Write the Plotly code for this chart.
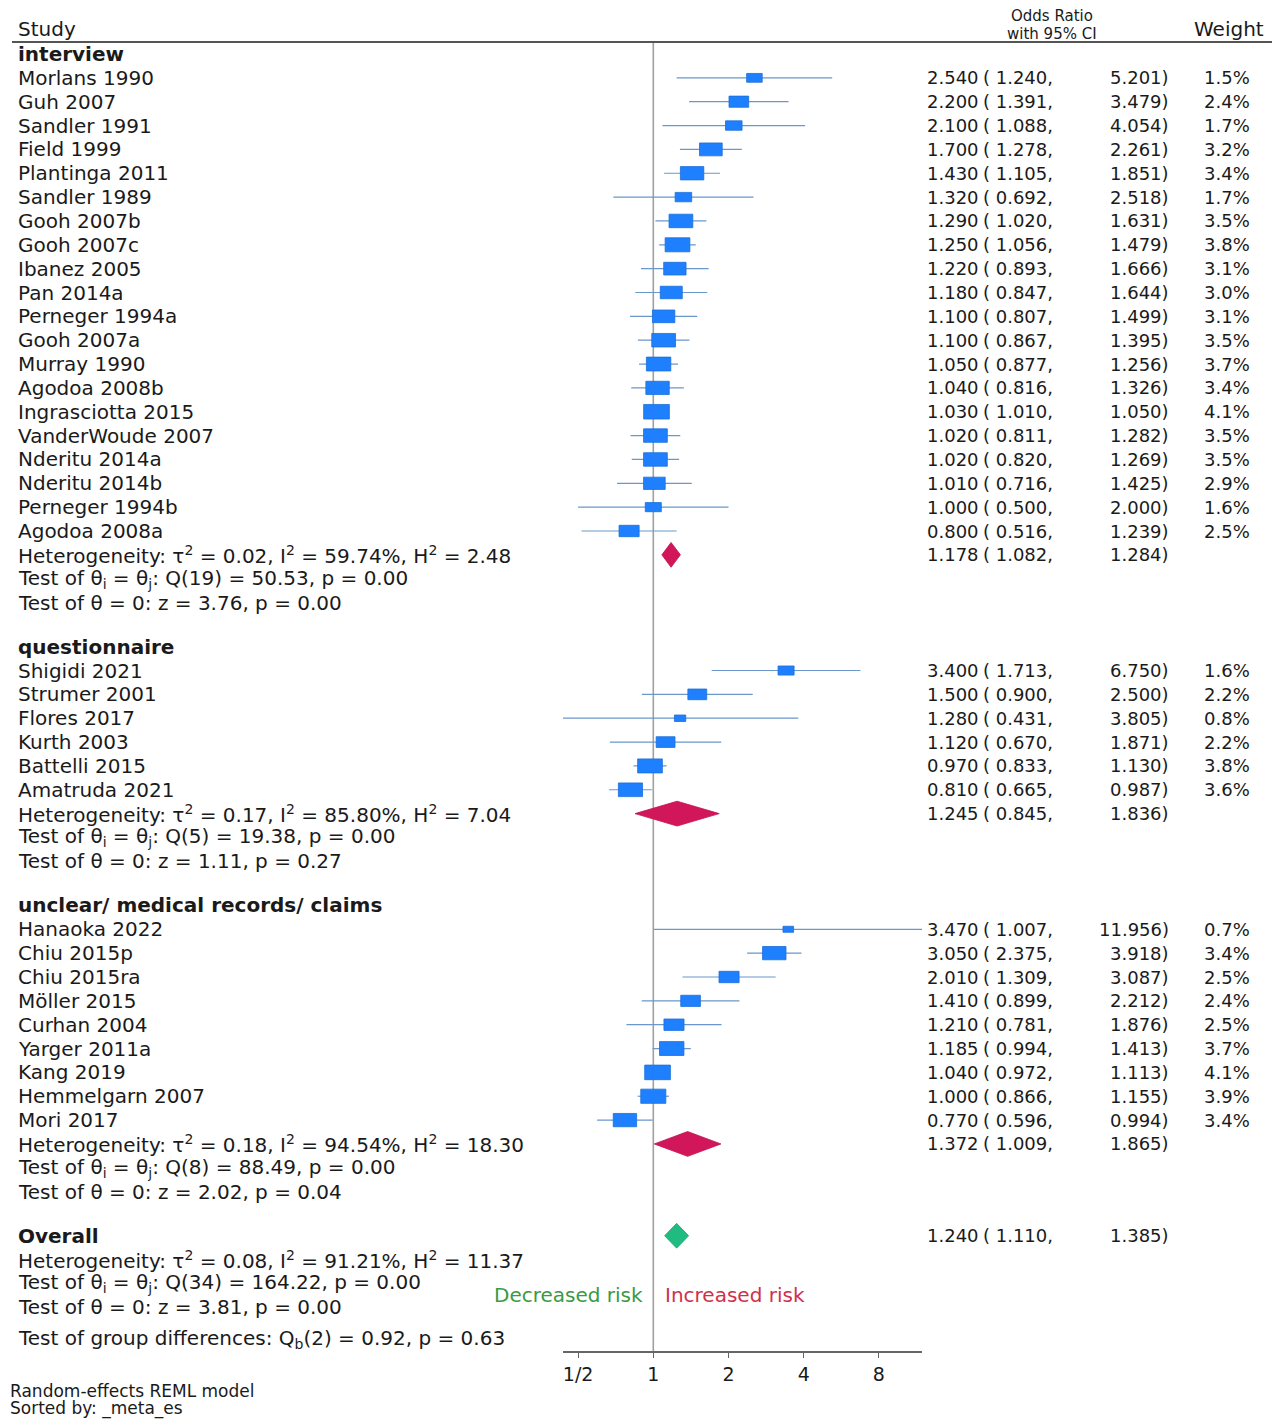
import math
import plotly.graph_objects as go

# ---- data ----
interview_study = [
    "Morlans 1990", "Guh 2007", "Sandler 1991", "Field 1999", "Plantinga 2011",
    "Sandler 1989", "Gooh 2007b", "Gooh 2007c", "Ibanez 2005", "Pan 2014a",
    "Perneger 1994a", "Gooh 2007a", "Murray 1990", "Agodoa 2008b",
    "Ingrasciotta 2015", "VanderWoude 2007", "Nderitu 2014a", "Nderitu 2014b",
    "Perneger 1994b", "Agodoa 2008a",
]
interview_or = [2.540, 2.200, 2.100, 1.700, 1.430, 1.320, 1.290, 1.250, 1.220, 1.180,
                1.100, 1.100, 1.050, 1.040, 1.030, 1.020, 1.020, 1.010, 1.000, 0.800]
interview_lo = [1.240, 1.391, 1.088, 1.278, 1.105, 0.692, 1.020, 1.056, 0.893, 0.847,
                0.807, 0.867, 0.877, 0.816, 1.010, 0.811, 0.820, 0.716, 0.500, 0.516]
interview_hi = [5.201, 3.479, 4.054, 2.261, 1.851, 2.518, 1.631, 1.479, 1.666, 1.644,
                1.499, 1.395, 1.256, 1.326, 1.050, 1.282, 1.269, 1.425, 2.000, 1.239]
interview_wt = [1.5, 2.4, 1.7, 3.2, 3.4, 1.7, 3.5, 3.8, 3.1, 3.0,
                3.1, 3.5, 3.7, 3.4, 4.1, 3.5, 3.5, 2.9, 1.6, 2.5]
interview_pool = [1.178, 1.082, 1.284]
interview_stats = [
    "Heterogeneity: τ<sup>2</sup> = 0.02, I<sup>2</sup> = 59.74%, H<sup>2</sup> = 2.48",
    "Test of θ<sub>i</sub> = θ<sub>j</sub>: Q(19) = 50.53, p = 0.00",
    "Test of θ = 0: z = 3.76, p = 0.00",
]

quest_study = ["Shigidi 2021", "Strumer 2001", "Flores 2017", "Kurth 2003",
               "Battelli 2015", "Amatruda 2021"]
quest_or = [3.400, 1.500, 1.280, 1.120, 0.970, 0.810]
quest_lo = [1.713, 0.900, 0.431, 0.670, 0.833, 0.665]
quest_hi = [6.750, 2.500, 3.805, 1.871, 1.130, 0.987]
quest_wt = [1.6, 2.2, 0.8, 2.2, 3.8, 3.6]
quest_pool = [1.245, 0.845, 1.836]
quest_stats = [
    "Heterogeneity: τ<sup>2</sup> = 0.17, I<sup>2</sup> = 85.80%, H<sup>2</sup> = 7.04",
    "Test of θ<sub>i</sub> = θ<sub>j</sub>: Q(5) = 19.38, p = 0.00",
    "Test of θ = 0: z = 1.11, p = 0.27",
]

unclear_study = ["Hanaoka 2022", "Chiu 2015p", "Chiu 2015ra", "Möller 2015",
                 "Curhan 2004", "Yarger 2011a", "Kang 2019", "Hemmelgarn 2007",
                 "Mori 2017"]
unclear_or = [3.470, 3.050, 2.010, 1.410, 1.210, 1.185, 1.040, 1.000, 0.770]
unclear_lo = [1.007, 2.375, 1.309, 0.899, 0.781, 0.994, 0.972, 0.866, 0.596]
unclear_hi = [11.956, 3.918, 3.087, 2.212, 1.876, 1.413, 1.113, 1.155, 0.994]
unclear_wt = [0.7, 3.4, 2.5, 2.4, 2.5, 3.7, 4.1, 3.9, 3.4]
unclear_pool = [1.372, 1.009, 1.865]
unclear_stats = [
    "Heterogeneity: τ<sup>2</sup> = 0.18, I<sup>2</sup> = 94.54%, H<sup>2</sup> = 18.30",
    "Test of θ<sub>i</sub> = θ<sub>j</sub>: Q(8) = 88.49, p = 0.00",
    "Test of θ = 0: z = 2.02, p = 0.04",
]

overall_pool = [1.240, 1.110, 1.385]
overall_stats = [
    "Heterogeneity: τ<sup>2</sup> = 0.08, I<sup>2</sup> = 91.21%, H<sup>2</sup> = 11.37",
    "Test of θ<sub>i</sub> = θ<sub>j</sub>: Q(34) = 164.22, p = 0.00",
    "Test of θ = 0: z = 3.81, p = 0.00",
]
group_diff = "Test of group differences: Q<sub>b</sub>(2) = 0.92, p = 0.63"

tick_vals = [0.5, 1, 2, 4, 8]
tick_text = ["1/2", "1", "2", "4", "8"]

# ---- layout constants (target pixel coords; page body adds an 8px margin) ----
PAGE_OFF = 8
W, H = 1280 - PAGE_OFF, 1423 - PAGE_OFF
ROW_PX = 23.85
TOP_PX = 54
GAP = 0.85
FONT = "DejaVu Sans"
TXT = "#1a1a1a"
FS = 20      # text labels
FS_NUM = 18  # numeric columns


def px_x(p):
    return (p - PAGE_OFF) / W


def px_row(p):
    return (p - TOP_PX) / ROW_PX


groups = [
    ("interview", interview_study, interview_or, interview_lo, interview_hi,
     interview_wt, interview_pool, interview_stats),
    ("questionnaire", quest_study, quest_or, quest_lo, quest_hi,
     quest_wt, quest_pool, quest_stats),
    ("unclear/ medical records/ claims", unclear_study, unclear_or, unclear_lo,
     unclear_hi, unclear_wt, unclear_pool, unclear_stats),
]

annots = []


def label(text, x, y, anchor="left", bold=False, color=TXT, size=FS):
    annots.append(dict(
        text=f"<b>{text}</b>" if bold else text, x=x, y=y, xref="paper", yref="y",
        xanchor=anchor, yanchor="middle", showarrow=False,
        font=dict(family=FONT, size=size, color=color),
    ))


def est_cols(y, est, lo, hi, wt=None):
    label(f"{est:.3f}", px_x(981), y, "right", size=FS_NUM)
    label(f"( {lo:.3f},", px_x(1055), y, "right", size=FS_NUM)
    label(f"{hi:.3f})", px_x(1171), y, "right", size=FS_NUM)
    if wt is not None:
        label(f"{wt:.1f}%", px_x(1252), y, "right", size=FS_NUM)


ci_x, ci_y, box_x, box_y = [], [], [], []
dia_x, dia_y = [], []
DIA_HH = 0.52

y = 0.0
for name, study, ors, los, his, wts, pool, stats in groups:
    label(name, px_x(16), y, bold=True)
    y += 1
    for s, o, lo, hi, w in zip(study, ors, los, his, wts):
        label(s, px_x(16), y)
        est_cols(y, o, lo, hi, w)
        ci_x += [lo, hi, None]
        ci_y += [y, y, None]
        hw = 10 ** (0.02542 * math.sqrt(w))
        hh = 0.151 * math.sqrt(w)
        box_x += [o / hw, o * hw, o * hw, o / hw, o / hw, None]
        box_y += [y - hh, y - hh, y + hh, y + hh, y - hh, None]
        y += 1
    est, lo, hi = pool
    dia_x += [lo, est, hi, est, lo, None]
    dia_y += [y, y - DIA_HH, y, y + DIA_HH, y, None]
    est_cols(y, est, lo, hi)
    for line in stats:
        label(line, px_x(16), y)
        y += 1
    y += GAP

# overall
label("Overall", px_x(16), y, bold=True)
est, lo, hi = overall_pool
ov_x = [lo, est, hi, est, lo]
ov_y = [y, y - DIA_HH, y, y + DIA_HH, y]
est_cols(y, est, lo, hi)
y += 1
for i, line in enumerate(overall_stats):
    label(line, px_x(16), y)
    if i == 1:
        label("Decreased risk", px_x(645), y + 0.5, "right", color="#3a9a45")
        label("Increased risk", px_x(663), y + 0.5, "left", color="#d0304c")
    y += 1
label(group_diff, px_x(16), y + 0.33)

# headers and footer
label("Study", px_x(16), px_row(29))
label("Odds Ratio", px_x(1052), px_row(16), "center", size=15)
label("with 95% CI", px_x(1052), px_row(34), "center", size=15)
label("Weight", px_x(1266), px_row(29), "right")
label("Random-effects REML model", px_x(PAGE_OFF), px_row(1391), size=17)
label("Sorted by: _meta_es", px_x(PAGE_OFF), px_row(1408), size=17)

fig = go.Figure()
# null line at OR = 1
fig.add_trace(go.Scatter(x=[1, 1], y=[px_row(42), px_row(1352)], mode="lines",
                         line=dict(color="#a0a0a0", width=1.6), hoverinfo="skip"))
fig.add_trace(go.Scatter(x=ci_x, y=ci_y, mode="lines",
                         line=dict(color="#6a97cc", width=1.2), hoverinfo="skip"))
fig.add_trace(go.Scatter(x=box_x, y=box_y, mode="lines", fill="toself",
                         fillcolor="#1f80ff", line=dict(color="#1a6ed8", width=0.8),
                         hoverinfo="skip"))
fig.add_trace(go.Scatter(x=dia_x, y=dia_y, mode="lines", fill="toself",
                         fillcolor="#d1175a", line=dict(color="#c0104f", width=0.8),
                         hoverinfo="skip"))
fig.add_trace(go.Scatter(x=ov_x, y=ov_y, mode="lines", fill="toself",
                         fillcolor="#1fbb80", line=dict(color="#18a870", width=0.8),
                         hoverinfo="skip"))

x_left, x_right, x_one, per_doubling = 563, 922, 653.3, 75.2
log_lo = (x_left - x_one) / per_doubling * math.log10(2)
log_hi = (x_right - x_one) / per_doubling * math.log10(2)

fig.update_layout(
    width=W, height=H, showlegend=False,
    paper_bgcolor="white", plot_bgcolor="white",
    margin=dict(l=0, r=0, t=0, b=0, pad=0, autoexpand=False),
    annotations=annots,
    shapes=[dict(type="line", xref="paper", yref="y", x0=px_x(12), x1=px_x(1276),
                 y0=px_row(42), y1=px_row(42), line=dict(color="#555555", width=2))],
    xaxis=dict(
        type="log", range=[log_lo, log_hi], domain=[px_x(x_left), px_x(x_right)],
        anchor="free", position=(1423 - 1352) / H,
        showline=True, linecolor="#666666", linewidth=1.5,
        ticks="outside", ticklen=5, tickcolor="#666666",
        tickvals=tick_vals, ticktext=tick_text, showgrid=False, zeroline=False,
        tickfont=dict(family=FONT, size=19, color=TXT),
    ),
    yaxis=dict(range=[px_row(1423), px_row(PAGE_OFF)], domain=[0, 1], visible=False,
               showgrid=False, zeroline=False),
)

fig.write_html("out.html")
